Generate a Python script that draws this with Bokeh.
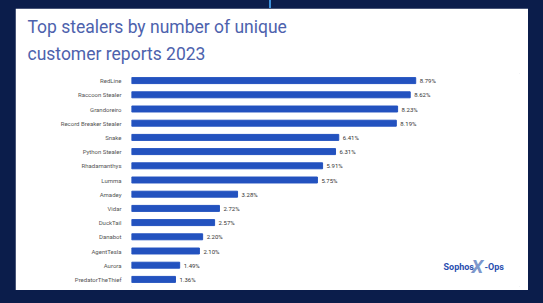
from bokeh.plotting import figure
from bokeh.models import ColumnDataSource, FactorRange, Range1d, Title, GlobalInlineStyleSheet
from bokeh.core.properties import value
from bokeh.embed import file_html
from bokeh.resources import INLINE

stealers = ["RedLine", "Raccoon Stealer", "Grandoreiro", "Record Breaker Stealer", "Snake",
            "Python Stealer", "Rhadamanthys", "Lumma", "Amadey", "Vidar", "DuckTail",
            "Danabot", "AgentTesla", "Aurora", "PredatorTheThief"]
shares = [8.79, 8.62, 8.23, 8.19, 6.41, 6.31, 5.91, 5.75, 3.28, 2.72, 2.57, 2.20, 2.10, 1.49, 1.36]
share_labels = [f"{v:.2f}%" for v in shares]
title_lines = ["Top stealers by number of unique", "customer reports 2023"]

NAVY = "#0b1d4b"
BAR = "#2352bf"

css = GlobalInlineStyleSheet(css=(
    "body{margin:8px 0 0 15px;"
    f"background:linear-gradient(90deg,{NAVY} 269px,#3b8fd9 269px,#3b8fd9 271px,{NAVY} 271px) no-repeat 0 0/100% 8px,{NAVY};}}"
))

src = ColumnDataSource(dict(name=stealers, share=shares, label=share_labels))

p = figure(width=513, height=282,
           y_range=FactorRange(factors=stealers[::-1]),
           x_range=Range1d(0, 12),
           output_backend="svg", toolbar_location=None,
           min_border_left=116, min_border_right=9, min_border_top=65, min_border_bottom=4)
p.stylesheets = [css]
p.background_fill_color = "white"
p.border_fill_color = "white"
p.outline_line_color = "white"
p.grid.visible = False
p.below = []

p.hbar(y="name", right="share", left=0, height=0.42, source=src, color=BAR)
p.text(x="share", y="name", text="label", source=src, x_offset=4,
       text_baseline="middle", text_font_size="6px", text_color="#333333",
       text_font=value("Roboto"))

ax = p.yaxis[0]
ax.axis_line_color = None
ax.major_tick_line_color = None
ax.minor_tick_line_color = None
ax.major_label_standoff = 4
ax.major_label_text_font_size = "6px"
ax.major_label_text_color = "#555555"
ax.major_label_text_font = "Roboto"

p.add_layout(Title(text="\n".join(title_lines), text_font_size="17.5px", text_font="Roboto",
                   text_font_style="normal", text_color="#4d62ad", text_line_height=1.35,
                   align="left", vertical_align="top", offset=-104, standoff=15), "above")

# logo
p.text(x=[9.65], y=["Aurora"], text=["Sophos"], y_offset=2, text_baseline="middle",
       text_font_size="9px", text_font_style="bold", text_color="#2a4fb0",
       text_font=value("Roboto"))
p.text(x=[9.65], y=["Aurora"], text=["X"], x_offset=28, y_offset=1, text_baseline="middle",
       text_font_size="19px", text_font_style="bold italic", text_color="#7d97cc",
       text_font=value("Roboto"))
p.text(x=[9.65], y=["Aurora"], text=["-Ops"], x_offset=41, y_offset=2, text_baseline="middle",
       text_font_size="9px", text_font_style="bold", text_color="#2a4fb0",
       text_font=value("Roboto"))

open("out.html", "w").write(file_html(p, INLINE))
